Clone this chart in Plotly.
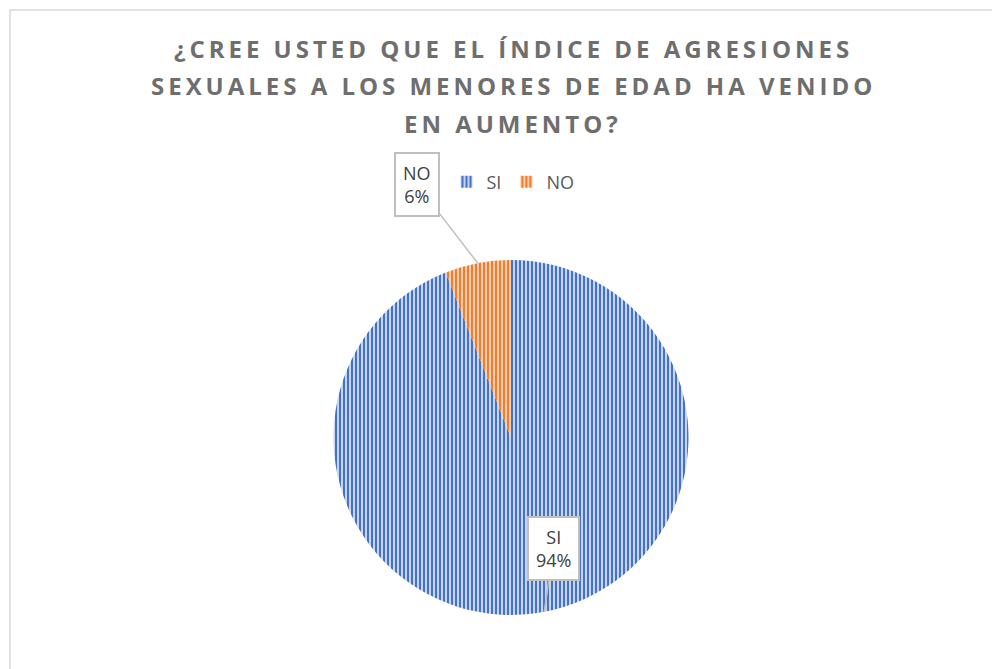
import math
import plotly.graph_objects as go

categories = ["SI", "NO"]
values = [94, 6]
colors = ["#4472C4", "#ED7D31"]
stripe_colors = ["#C7D4EF", "#F8CCAA"]
title_lines = [
    "¿CREE USTED QUE EL ÍNDICE DE AGRESIONES",
    "SEXUALES A LOS MENORES DE EDAD HA VENIDO",
    "EN AUMENTO?",
]

W, H = 1000, 669
OFF = 8  # the html body margin shifts the figure by 8px
# pie centre / radius in screen pixels
cx, cy, r = 511, 437.5, 177.5


def fx(px):
    return (px - OFF) / W


def fy(py):
    return 1 - (py - OFF) / H


def spaced(s):
    # fake letter spacing
    return "\u2009".join(s)


fig = go.Figure(go.Pie(
    labels=categories,
    values=values,
    sort=False,
    direction="clockwise",
    rotation=0,
    textinfo="none",
    hoverinfo="label+percent",
    marker=dict(
        colors=colors,
        line=dict(color="white", width=0),
        pattern=dict(shape="|", bgcolor=colors, fgcolor=stripe_colors, size=4, solidity=0.5),
    ),
    domain=dict(x=[fx(cx - r), fx(cx + r)], y=[fy(cy + r), fy(cy - r)]),
))

annotations = []
for i, line in enumerate(title_lines):
    annotations.append(dict(
        text="<b>" + spaced(line) + "</b>", x=fx(511), y=fy(48 + i * 37.5),
        xref="paper", yref="paper", showarrow=False, xanchor="center", yanchor="middle",
        font=dict(family="Open Sans", size=24, color="#6e6e6e"),
    ))

# data labels with callout lines, placed from the slice mid-angles
total = sum(values)
offsets = [(9, -63), (-61, -79)]
cum = 0
for cat, v, (ax, ay) in zip(categories, values, offsets):
    mid = (cum + v / 2) / total * 2 * math.pi
    cum += v
    tip_x = cx + r * math.sin(mid)
    tip_y = cy - r * math.cos(mid)
    annotations.append(dict(
        x=fx(tip_x), y=fy(tip_y), xref="paper", yref="paper",
        text=f"{cat}<br>{round(v / total * 100)}%",
        showarrow=True, arrowhead=0, arrowwidth=1.5, arrowcolor="#bfbfbf",
        ax=ax, ay=ay, bgcolor="white", bordercolor="#bfbfbf", borderwidth=2, borderpad=7,
        font=dict(family="Open Sans", size=18, color="#404040"), align="center",
    ))

fig.update_layout(
    width=W, height=H,
    margin=dict(l=0, r=0, t=0, b=0),
    paper_bgcolor="white",
    annotations=annotations,
    showlegend=True,
    legend=dict(
        orientation="h", x=fx(513), y=fy(182), xanchor="center", yanchor="middle",
        font=dict(family="Open Sans", size=18, color="#595959"),
        itemwidth=30,
    ),
    shapes=[dict(type="rect", xref="paper", yref="paper",
                 x0=fx(10), y0=fy(680), x1=fx(998), y1=fy(10),
                 line=dict(color="#d9d9d9", width=1.5))],
)

fig.write_html("out.html")
